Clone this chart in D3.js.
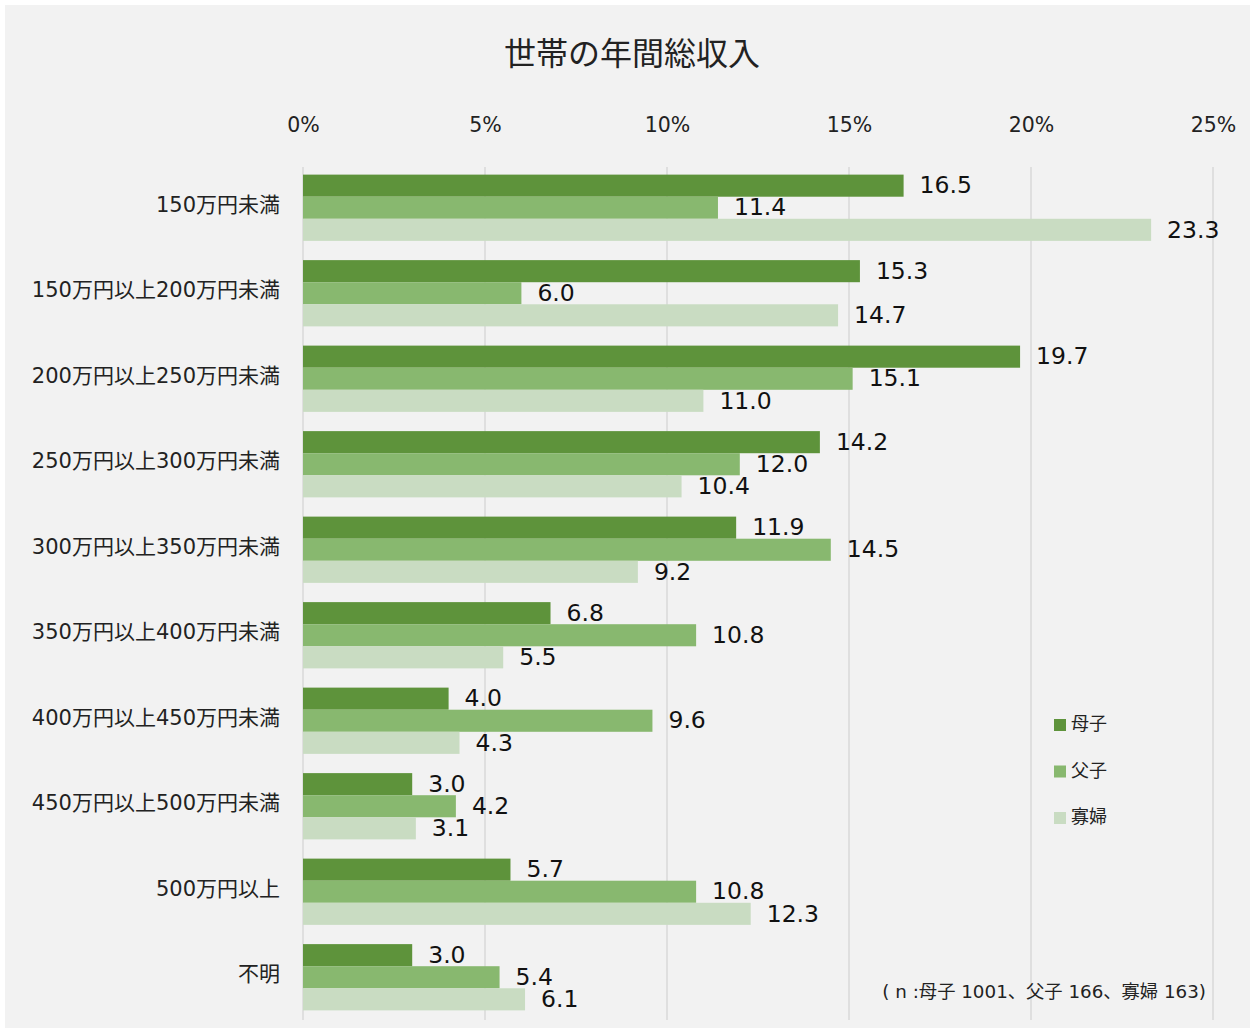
<!DOCTYPE html>
<html>
<head>
<meta charset="utf-8">
<script src="https://cdn.jsdelivr.net/npm/d3@7"></script>
<style>
  html, body { margin: 0; padding: 0; background: #fff; }
  svg { display: block; font-family: "DejaVu Sans", "Noto Sans CJK JP", sans-serif; }
</style>
</head>
<body>
<svg id="chart" width="1255" height="1032"></svg>
<script>
const categories = [
    '150万円未満',
    '150万円以上200万円未満',
    '200万円以上250万円未満',
    '250万円以上300万円未満',
    '300万円以上350万円未満',
    '350万円以上400万円未満',
    '400万円以上450万円未満',
    '450万円以上500万円未満',
    '500万円以上',
    '不明'
];
const seriesNames = ['母子', '父子', '寡婦'];
const boshi = [16.5, 15.3, 19.7, 14.2, 11.9, 6.8, 4.0, 3.0, 5.7, 3.0];
const fushi = [11.4, 6.0, 15.1, 12.0, 14.5, 10.8, 9.6, 4.2, 10.8, 5.4];
const kafu = [23.3, 14.7, 11.0, 10.4, 9.2, 5.5, 4.3, 3.1, 12.3, 6.1];
const xTicks = [0, 5, 10, 15, 20, 25];
const colors = ['#5e933b', '#88b86f', '#c9dcc2'];
const note = '( n :母子 1001、父子 166、寡婦 163)';

const seriesValues = [boshi, fushi, kafu];

const svg = d3.select('#chart');
const W = 1255, H = 1032;

// background panel
svg.append('rect').attr('x', 0).attr('y', 0).attr('width', W).attr('height', H).attr('fill', '#fff');
svg.append('rect').attr('x', 5).attr('y', 5).attr('width', W - 10).attr('height', H - 9).attr('fill', '#f2f2f2');

const plot = { left: 303, right: 1213, top: 165, bottom: 1020 };

const x = d3.scaleLinear().domain([0, 25]).range([plot.left, plot.right]);
const y = d3.scaleBand().domain(categories).range([plot.top, plot.bottom]).paddingInner(0.225).paddingOuter(0.1125);
const ySub = d3.scaleBand().domain(seriesNames).range([0, y.bandwidth()]);

// title
svg.append('text')
    .attr('x', 632).attr('y', 65)
    .attr('text-anchor', 'middle')
    .attr('font-size', 32)
    .attr('fill', '#222')
    .text('世帯の年間総収入');

// gridlines
svg.append('g')
    .selectAll('line')
    .data(xTicks)
    .join('line')
    .attr('x1', d => x(d)).attr('x2', d => x(d))
    .attr('y1', plot.top + 2).attr('y2', plot.bottom)
    .attr('stroke', '#d9d9d9')
    .attr('stroke-width', 1.5);

// top axis labels
const axis = svg.append('g')
    .attr('transform', `translate(0,${132})`)
    .call(d3.axisTop(x).tickValues(xTicks).tickFormat(d => d + '%').tickSize(0).tickPadding(0));
axis.select('.domain').remove();
axis.selectAll('text')
    .attr('font-size', 20.5)
    .attr('font-family', '"DejaVu Sans", "Noto Sans CJK JP", sans-serif')
    .attr('fill', '#222');

// bars
const groups = svg.append('g')
    .selectAll('g.group')
    .data(categories.map((c, i) => ({ c, vals: seriesValues.map((s, k) => ({ name: seriesNames[k], v: s[i], k })) })))
    .join('g')
    .attr('class', 'group')
    .attr('transform', d => `translate(0,${y(d.c)})`);

groups.selectAll('rect')
    .data(d => d.vals)
    .join('rect')
    .attr('x', x(0))
    .attr('y', d => ySub(d.name))
    .attr('width', d => x(d.v) - x(0))
    .attr('height', ySub.bandwidth())
    .attr('fill', d => colors[d.k]);

groups.selectAll('text.val')
    .data(d => d.vals)
    .join('text')
    .attr('class', 'val')
    .attr('x', d => x(d.v) + 16)
    .attr('y', d => ySub(d.name) + ySub.bandwidth() / 2)
    .attr('dy', '0.33em')
    .attr('font-size', 23.5)
    .attr('fill', '#111')
    .text(d => d.v.toFixed(1));

// category labels
svg.append('g')
    .selectAll('text')
    .data(categories)
    .join('text')
    .attr('x', 280)
    .attr('y', d => y(d) + y.bandwidth() / 2)
    .attr('dy', '0.2em')
    .attr('text-anchor', 'end')
    .attr('font-size', 21)
    .attr('fill', '#222')
    .text(d => d);

// legend
const legend = svg.append('g')
    .selectAll('g')
    .data(seriesNames)
    .join('g')
    .attr('transform', (d, i) => `translate(1054,${719 + i * 46.5})`);
legend.append('rect')
    .attr('width', 12).attr('height', 12)
    .attr('fill', (d, i) => colors[i]);
legend.append('text')
    .attr('x', 17).attr('y', 5)
    .attr('dy', '0.36em')
    .attr('font-size', 18)
    .attr('fill', '#222')
    .text(d => d);

// note
svg.append('text')
    .attr('x', 1206).attr('y', 998)
    .attr('text-anchor', 'end')
    .attr('font-size', 18.3)
    .attr('fill', '#222')
    .text(note);
</script>
</body>
</html>
